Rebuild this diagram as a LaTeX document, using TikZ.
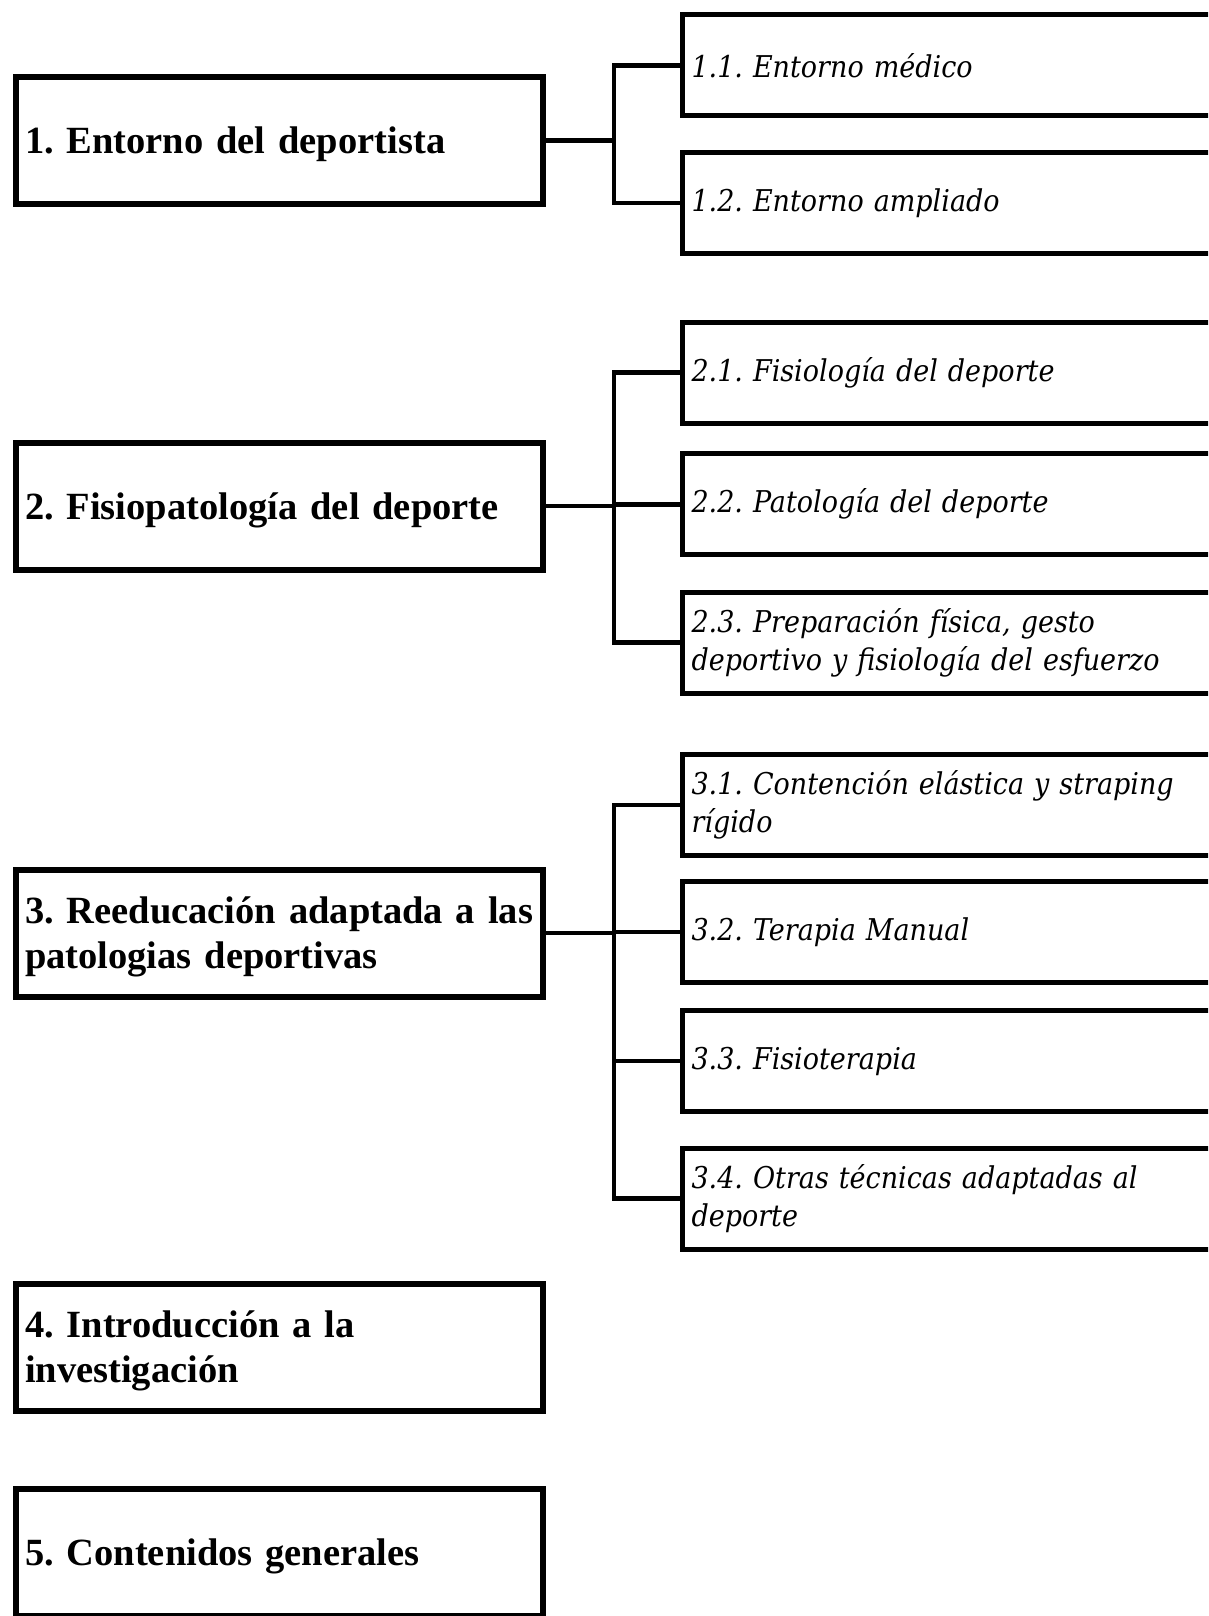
\documentclass[tikz,border=0pt]{standalone}
\usepackage{fontspec}
\setmainfont{Liberation Serif}
\newfontfamily\subfont{DejaVu Serif}[FakeStretch=0.9]
\usepackage{tikz}

\begin{document}
\begin{tikzpicture}[x=1pt, y=-1pt]
  \tikzset{mainbox/.style={rectangle, draw, line width=6pt, minimum width=527pt, minimum height=127pt, text width=509pt, text depth=0pt, inner xsep=9pt, align=left, font=\fontsize{38.5}{45}\selectfont\bfseries\frenchspacing}}
  \tikzset{twolines/.style={text depth=46.5pt}}
  \tikzset{subbox/.style={rectangle, draw, line width=5pt, minimum width=558pt, minimum height=101pt, text width=540pt, inner xsep=8.5pt, align=left, font=\subfont\fontsize{30}{38}\selectfont\itshape\frenchspacing}}
  \tikzset{link/.style={line width=4.5pt}}
  \useasboundingbox (0,0) rectangle (1208,1616);
  \clip (0,0) rectangle (1208,1616);
  \fill[white] (0,0) rectangle (1208,1616);
  % main topics
  \node[mainbox] (ent) at (279.5,140.5) {1. Entorno del deportista};
  \node[mainbox] (fis) at (279.5,506) {2. Fisiopatología del deporte};
  \node[mainbox, twolines] (ree) at (279.5,933) {3. Reeducación adaptada a las\\patologias deportivas};
  \node[mainbox, twolines] (inv) at (279.5,1347) {4. Introducción a la\\investigación};
  \node[mainbox] (con) at (279.5,1552.5) {5. Contenidos generales};
  % subtopics
  \node[subbox] (ent1) at (961.5,65.5) {1.1. Entorno médico};
  \node[subbox] (ent2) at (961.5,203) {1.2. Entorno ampliado};
  \node[subbox] (fis1) at (961.5,372.6) {2.1. Fisiología del deporte};
  \node[subbox] (fis2) at (961.5,504.3) {2.2. Patología del deporte};
  \node[subbox] (fis3) at (961.5,642.6) {2.3. Preparación física, gesto\\deportivo y fisiología del esfuerzo};
  \node[subbox] (ree1) at (961.5,805) {3.1. Contención elástica y straping\\rígido};
  \node[subbox] (ree2) at (961.5,932) {3.2. Terapia Manual};
  \node[subbox] (ree3) at (961.5,1061) {3.3. Fisioterapia};
  \node[subbox] (ree4) at (961.5,1198.5) {3.4. Otras técnicas adaptadas al\\deporte};
  % connectors
  \coordinate (j1) at (614,140.5);
  \coordinate (j2) at (614,506);
  \coordinate (j3) at (614,933);
  \draw[link] (ent.east) -- (j1);
  \draw[link] (ent1.west) -| (j1) |- (ent2.west);
  \draw[link] (fis.east) -- (j2);
  \draw[link] (fis1.west) -| (j2) |- (fis3.west);
  \draw[link] (fis2.west) -- (fis2.west -| j2);
  \draw[link] (ree.east) -- (j3);
  \draw[link] (ree1.west) -| (j3) |- (ree4.west);
  \draw[link] (ree2.west) -- (ree2.west -| j3);
  \draw[link] (ree3.west) -- (ree3.west -| j3);
\end{tikzpicture}
\end{document}
